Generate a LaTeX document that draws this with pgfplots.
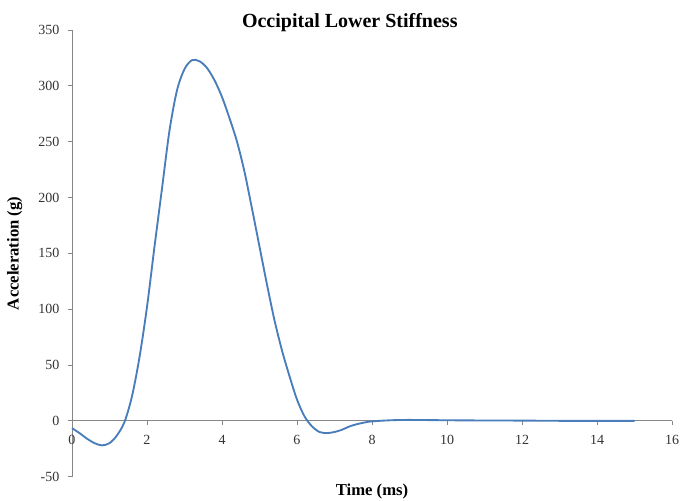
\documentclass[border=0pt]{standalone}
\usepackage{fontspec}
\setmainfont{Liberation Serif}
\usepackage{pgfplots}
\pgfplotsset{compat=1.18}
\definecolor{curve}{HTML}{4A7EBB}
\definecolor{axgray}{HTML}{868686}
\begin{document}
\begin{tikzpicture}
\begin{axis}[
  scale only axis,
  width=450pt, height=335pt,
  xmin=0, xmax=16, ymin=-50, ymax=350,
  axis x line=middle, axis y line=left,
  axis line style={draw=axgray, line width=0.7pt, -},
  xtick={0,2,...,16}, ytick={-50,0,...,350},
  tick align=outside, major tick length=3pt,
  tick style={draw=axgray, line width=0.6pt},
  hide obscured x ticks=false, hide obscured y ticks=false,
  /pgf/number format/assume math mode=true,
  tick label style={font=\fontsize{10.5}{12}\selectfont, text=black!80},
  xticklabel style={yshift=-4pt},
  yticklabel style={xshift=-3pt},
  title={\textbf{Occipital Lower Stiffness}},
  title style={font=\fontsize{15}{17}\selectfont, at={(axis description cs:0.463,1)}, anchor=base, yshift=-4pt},
  xlabel={\textbf{Time (ms)}},
  xlabel style={font=\fontsize{12.5}{14}\selectfont, at={(axis description cs:0.5,0)}, anchor=north, yshift=-2pt},
  ylabel={\textbf{Acceleration (g)}},
  ylabel style={font=\fontsize{12.5}{14}\selectfont, at={(axis description cs:0,0.5)}, anchor=center, rotate=0, yshift=43pt},
  clip=false,
]
\addplot[color=curve, line width=1.4pt, smooth] coordinates {
(0,-6.5) (0.2,-11) (0.4,-16) (0.6,-20) (0.8,-22) (1.0,-20) (1.2,-13) (1.4,-1)
(1.6,22) (1.8,57) (2.0,102) (2.2,156) (2.4,208) (2.6,260) (2.8,296) (3.0,315)
(3.2,323) (3.4,322) (3.6,316) (3.8,305) (4.0,290) (4.2,271) (4.4,250) (4.6,223)
(4.8,190) (5.0,156) (5.2,122) (5.4,90) (5.6,63) (5.8,40) (6.0,19) (6.2,4)
(6.4,-5) (6.6,-10) (6.8,-11) (7.0,-10) (7.2,-8) (7.4,-5) (7.6,-3) (7.8,-1.5)
(8.0,-0.5) (8.5,0.5) (9,0.8) (10,0.5) (11,0.3) (12,0.2) (13,0) (14,0) (15,0)
};
\end{axis}
\pgfresetboundingbox
\path ([shift={(-54pt,-18pt)}]current axis.south west) rectangle ([shift={(8.25pt,22.5pt)}]current axis.north east);
\end{tikzpicture}
\end{document}
